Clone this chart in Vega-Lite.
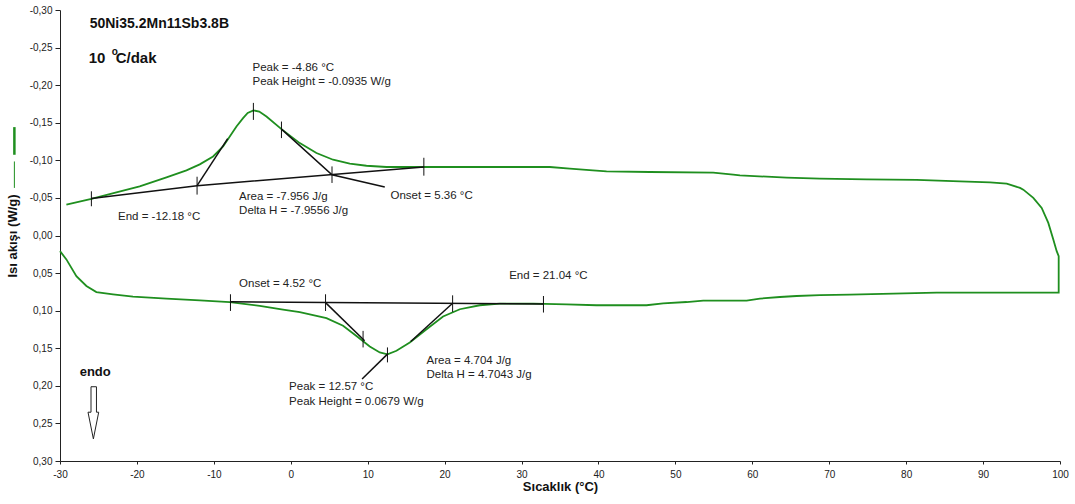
{
  "$schema": "https://vega.github.io/schema/vega-lite/v6.json",
  "width": 1000,
  "height": 451,
  "autosize": {"type": "none"},
  "padding": {"left": 60, "top": 10, "right": 15, "bottom": 43},
  "background": "white",
  "config": {
    "view": {"stroke": null},
    "font": "Liberation Sans",
    "axis": {"grid": false, "domainColor": "#222", "tickColor": "#222", "labelColor": "#222", "labelFont": "Liberation Sans", "titleFont": "Liberation Sans", "labelFontSize": 10, "titleFontSize": 13, "titleFontWeight": "bold", "titleColor": "#111", "labelFlush": false, "labelOverlap": false}
  },
  "datasets": {
    "curve": [
      {"i": 0, "T": -30.0, "Q": 0.0208},
      {"i": 1, "T": -29.17, "Q": 0.0318},
      {"i": 2, "T": -27.87, "Q": 0.0540},
      {"i": 3, "T": -26.57, "Q": 0.0672},
      {"i": 4, "T": -25.27, "Q": 0.0752},
      {"i": 5, "T": -23.11, "Q": 0.0782},
      {"i": 6, "T": -20.51, "Q": 0.0813},
      {"i": 7, "T": -16.16, "Q": 0.0840},
      {"i": 8, "T": -11.83, "Q": 0.0862},
      {"i": 9, "T": -7.93, "Q": 0.0885},
      {"i": 10, "T": -4.03, "Q": 0.0935},
      {"i": 11, "T": -1.0, "Q": 0.0985},
      {"i": 12, "T": 1.17, "Q": 0.1020},
      {"i": 13, "T": 4.64, "Q": 0.1100},
      {"i": 14, "T": 6.80, "Q": 0.1200},
      {"i": 15, "T": 8.54, "Q": 0.1336},
      {"i": 16, "T": 10.27, "Q": 0.1476},
      {"i": 17, "T": 11.57, "Q": 0.1556},
      {"i": 18, "T": 12.57, "Q": 0.1580},
      {"i": 19, "T": 13.74, "Q": 0.1534},
      {"i": 20, "T": 15.47, "Q": 0.1423},
      {"i": 21, "T": 17.65, "Q": 0.1247},
      {"i": 22, "T": 19.80, "Q": 0.1078},
      {"i": 23, "T": 21.98, "Q": 0.0981},
      {"i": 24, "T": 24.58, "Q": 0.0928},
      {"i": 25, "T": 27.18, "Q": 0.0906},
      {"i": 26, "T": 31.51, "Q": 0.0906},
      {"i": 27, "T": 35.85, "Q": 0.0915},
      {"i": 28, "T": 39.75, "Q": 0.0928},
      {"i": 29, "T": 46.25, "Q": 0.0928},
      {"i": 30, "T": 48.41, "Q": 0.0902},
      {"i": 31, "T": 51.46, "Q": 0.0885},
      {"i": 32, "T": 53.62, "Q": 0.0866},
      {"i": 33, "T": 59.26, "Q": 0.0866},
      {"i": 34, "T": 60.99, "Q": 0.0840},
      {"i": 35, "T": 63.59, "Q": 0.0818},
      {"i": 36, "T": 65.76, "Q": 0.0805},
      {"i": 37, "T": 68.79, "Q": 0.0792},
      {"i": 38, "T": 72.69, "Q": 0.0786},
      {"i": 39, "T": 83.97, "Q": 0.0760},
      {"i": 40, "T": 99.83, "Q": 0.0760},
      {"i": 41, "T": 99.83, "Q": 0.0495},
      {"i": 42, "T": 99.83, "Q": 0.0275},
      {"i": 43, "T": 99.57, "Q": 0.0208},
      {"i": 44, "T": 99.13, "Q": 0.0053},
      {"i": 45, "T": 98.48, "Q": -0.0168},
      {"i": 46, "T": 97.62, "Q": -0.0367},
      {"i": 47, "T": 96.53, "Q": -0.0500},
      {"i": 48, "T": 95.23, "Q": -0.0610},
      {"i": 49, "T": 94.80, "Q": -0.0633},
      {"i": 50, "T": 93.07, "Q": -0.0690},
      {"i": 51, "T": 90.90, "Q": -0.0707},
      {"i": 52, "T": 87.0, "Q": -0.0720},
      {"i": 53, "T": 81.36, "Q": -0.0739},
      {"i": 54, "T": 74.86, "Q": -0.0747},
      {"i": 55, "T": 68.79, "Q": -0.0756},
      {"i": 56, "T": 64.46, "Q": -0.0769},
      {"i": 57, "T": 58.39, "Q": -0.0800},
      {"i": 58, "T": 57.52, "Q": -0.0809},
      {"i": 59, "T": 54.92, "Q": -0.0836},
      {"i": 60, "T": 46.68, "Q": -0.0845},
      {"i": 61, "T": 41.05, "Q": -0.0853},
      {"i": 62, "T": 39.27, "Q": -0.0866},
      {"i": 63, "T": 36.28, "Q": -0.0889},
      {"i": 64, "T": 33.68, "Q": -0.0911},
      {"i": 65, "T": 27.18, "Q": -0.0911},
      {"i": 66, "T": 17.65, "Q": -0.0911},
      {"i": 67, "T": 12.44, "Q": -0.0911},
      {"i": 68, "T": 9.84, "Q": -0.0928},
      {"i": 69, "T": 7.67, "Q": -0.0955},
      {"i": 70, "T": 5.50, "Q": -0.1008},
      {"i": 71, "T": 3.34, "Q": -0.1097},
      {"i": 72, "T": 1.17, "Q": -0.1229},
      {"i": 73, "T": -1.21, "Q": -0.1415},
      {"i": 74, "T": -3.16, "Q": -0.1582},
      {"i": 75, "T": -4.1, "Q": -0.1648},
      {"i": 76, "T": -4.86, "Q": -0.1665},
      {"i": 77, "T": -5.6, "Q": -0.1630},
      {"i": 78, "T": -6.20, "Q": -0.1561},
      {"i": 79, "T": -7.06, "Q": -0.1450},
      {"i": 80, "T": -7.93, "Q": -0.1317},
      {"i": 81, "T": -8.80, "Q": -0.1184},
      {"i": 82, "T": -10.10, "Q": -0.1052},
      {"i": 83, "T": -11.83, "Q": -0.0946},
      {"i": 84, "T": -13.56, "Q": -0.0866},
      {"i": 85, "T": -16.16, "Q": -0.0773},
      {"i": 86, "T": -19.64, "Q": -0.0654},
      {"i": 87, "T": -22.67, "Q": -0.0574},
      {"i": 88, "T": -25.92, "Q": -0.0487},
      {"i": 89, "T": -29.17, "Q": -0.0411}
    ],
    "guides": [
      {"g": 1, "i": 0, "T": -25.92, "Q": -0.0491},
      {"g": 1, "i": 1, "T": -12.18, "Q": -0.0663},
      {"g": 1, "i": 2, "T": 17.30, "Q": -0.0911},
      {"g": 2, "i": 0, "T": -12.18, "Q": -0.0663},
      {"g": 2, "i": 1, "T": -8.2, "Q": -0.1290},
      {"g": 3, "i": 0, "T": -1.21, "Q": -0.1415},
      {"g": 3, "i": 1, "T": 5.36, "Q": -0.0809},
      {"g": 3, "i": 2, "T": 12.22, "Q": -0.0646},
      {"g": 4, "i": 0, "T": -7.84, "Q": 0.0883},
      {"g": 4, "i": 1, "T": 32.85, "Q": 0.0910},
      {"g": 5, "i": 0, "T": 4.52, "Q": 0.0893},
      {"g": 5, "i": 1, "T": 9.6, "Q": 0.1400},
      {"g": 6, "i": 0, "T": 21.04, "Q": 0.0902},
      {"g": 6, "i": 1, "T": 15.6, "Q": 0.1410},
      {"g": 7, "i": 0, "T": 12.57, "Q": 0.1578},
      {"g": 7, "i": 1, "T": 9.27, "Q": 0.1910}
    ],
    "ticks": [
      {"T": -25.92, "Q": -0.0588, "Q2": -0.0389},
      {"T": -12.18, "Q": -0.0782, "Q2": -0.0544},
      {"T": -4.86, "Q": -0.1764, "Q2": -0.1538},
      {"T": -1.21, "Q": -0.1516, "Q2": -0.1296},
      {"T": 5.36, "Q": -0.0919, "Q2": -0.0699},
      {"T": 17.30, "Q": -0.1034, "Q2": -0.0796},
      {"T": -7.84, "Q": 0.0782, "Q2": 0.1004},
      {"T": 4.52, "Q": 0.0782, "Q2": 0.1004},
      {"T": 9.40, "Q": 0.1269, "Q2": 0.1489},
      {"T": 12.57, "Q": 0.1489, "Q2": 0.1688},
      {"T": 21.04, "Q": 0.0796, "Q2": 0.1017},
      {"T": 32.85, "Q": 0.0805, "Q2": 0.1025}
    ],
    "arrow": [
      {"i": 0, "T": -25.97, "Q": 0.2012},
      {"i": 1, "T": -25.26, "Q": 0.2012},
      {"i": 2, "T": -25.26, "Q": 0.2351},
      {"i": 3, "T": -24.97, "Q": 0.2351},
      {"i": 4, "T": -25.66, "Q": 0.2706},
      {"i": 5, "T": -26.36, "Q": 0.2351},
      {"i": 6, "T": -25.97, "Q": 0.2351},
      {"i": 7, "T": -25.97, "Q": 0.2012}
    ],
    "notes": [
      {"T": -4.98, "Q": -0.2188, "label": "Peak = -4.86 °C"},
      {"T": -4.98, "Q": -0.2003, "label": "Peak Height = -0.0935 W/g"},
      {"T": -6.72, "Q": -0.0477, "label": "Area = -7.956 J/g"},
      {"T": -6.72, "Q": -0.0292, "label": "Delta H = -7.9556 J/g"},
      {"T": 12.96, "Q": -0.0491, "label": "Onset = 5.36 °C"},
      {"T": -22.46, "Q": -0.0212, "label": "End = -12.18 °C"},
      {"T": -6.72, "Q": 0.0690, "label": "Onset = 4.52 °C"},
      {"T": 28.39, "Q": 0.0584, "label": "End = 21.04 °C"},
      {"T": 17.65, "Q": 0.1711, "label": "Area = 4.704 J/g"},
      {"T": 17.65, "Q": 0.1897, "label": "Delta H = 4.7043 J/g"},
      {"T": -0.22, "Q": 0.2056, "label": "Peak = 12.57 °C"},
      {"T": -0.22, "Q": 0.2255, "label": "Peak Height = 0.0679 W/g"}
    ],
    "titlenote": [
      {"T": -26.14, "Q": -0.2759, "label": "50Ni35.2Mn11Sb3.8B"}
    ],
    "boldnotes": [
      {"T": -27.44, "Q": 0.1870, "label": "endo"}
    ],
    "rate": [
      {"T": -26.27, "Q": -0.2294, "label": "10"},
      {"T": -22.76, "Q": -0.2294, "label": "C/dak"}
    ],
    "sup": [
      {"T": -23.28, "Q": -0.2401, "label": "o"}
    ],
    "legthick": [{"T": -35.93, "Q": -0.1442, "Q2": -0.1074}],
    "legthin": [{"T": -35.93, "Q": -0.0985, "Q2": -0.0633}]
  },
  "encoding": {
    "x": {
      "field": "T", "type": "quantitative",
      "scale": {"domain": [-30, 100], "nice": false, "zero": false},
      "axis": {
        "title": "Sıcaklık (°C)",
        "values": [-30, -20, -10, 0, 10, 20, 30, 40, 50, 60, 70, 80, 90, 100],
        "labelExpr": "'' + datum.value",
        "tickSize": 3, "labelPadding": 5, "titlePadding": 1
      }
    },
    "y": {
      "field": "Q", "type": "quantitative",
      "scale": {"domain": [-0.3, 0.3], "nice": false, "zero": false, "reverse": true},
      "axis": {
        "title": "Isı akışı (W/g)",
        "values": [-0.3, -0.25, -0.2, -0.15, -0.1, -0.05, 0, 0.05, 0.1, 0.15, 0.2, 0.25, 0.3],
        "labelExpr": "replace(replace(format(datum.value, '.2f'), '.', ','), '\u2212', '-')",
        "tickSize": 5, "labelPadding": 3, "titlePadding": 10
      }
    }
  },
  "layer": [
    {
      "data": {"name": "curve"},
      "mark": {"type": "line", "color": "#1f8f1f", "strokeWidth": 1.8},
      "encoding": {"order": {"field": "i", "type": "quantitative"}}
    },
    {
      "data": {"name": "guides"},
      "mark": {"type": "line", "color": "#111", "strokeWidth": 1.5},
      "encoding": {"detail": {"field": "g", "type": "nominal"}, "order": {"field": "i", "type": "quantitative"}}
    },
    {
      "data": {"name": "ticks"},
      "mark": {"type": "rule", "color": "#111", "strokeWidth": 1},
      "encoding": {"y2": {"field": "Q2"}}
    },
    {
      "data": {"name": "arrow"},
      "mark": {"type": "line", "color": "#222", "strokeWidth": 1},
      "encoding": {"order": {"field": "i", "type": "quantitative"}}
    },
    {
      "data": {"name": "legthick"},
      "mark": {"type": "rule", "color": "#1f8f1f", "strokeWidth": 2.5},
      "encoding": {"y2": {"field": "Q2"}}
    },
    {
      "data": {"name": "legthin"},
      "mark": {"type": "rule", "color": "#1f8f1f", "strokeWidth": 1},
      "encoding": {"y2": {"field": "Q2"}}
    },
    {
      "data": {"name": "notes"},
      "mark": {"type": "text", "align": "left", "baseline": "alphabetic", "fontSize": 11.5, "color": "#222", "font": "Liberation Sans"},
      "encoding": {"text": {"field": "label"}}
    },
    {
      "data": {"name": "titlenote"},
      "mark": {"type": "text", "align": "left", "baseline": "alphabetic", "fontSize": 14, "fontWeight": "bold", "color": "#111", "font": "Liberation Sans"},
      "encoding": {"text": {"field": "label"}}
    },
    {
      "data": {"name": "boldnotes"},
      "mark": {"type": "text", "align": "left", "baseline": "alphabetic", "fontSize": 13, "fontWeight": "bold", "color": "#111", "font": "Liberation Sans"},
      "encoding": {"text": {"field": "label"}}
    },
    {
      "data": {"name": "rate"},
      "mark": {"type": "text", "align": "left", "baseline": "alphabetic", "fontSize": 15, "fontWeight": "bold", "color": "#111", "font": "Liberation Sans"},
      "encoding": {"text": {"field": "label"}}
    },
    {
      "data": {"name": "sup"},
      "mark": {"type": "text", "align": "left", "baseline": "alphabetic", "fontSize": 10, "fontWeight": "bold", "color": "#111", "font": "Liberation Sans"},
      "encoding": {"text": {"field": "label"}}
    }
  ]
}
